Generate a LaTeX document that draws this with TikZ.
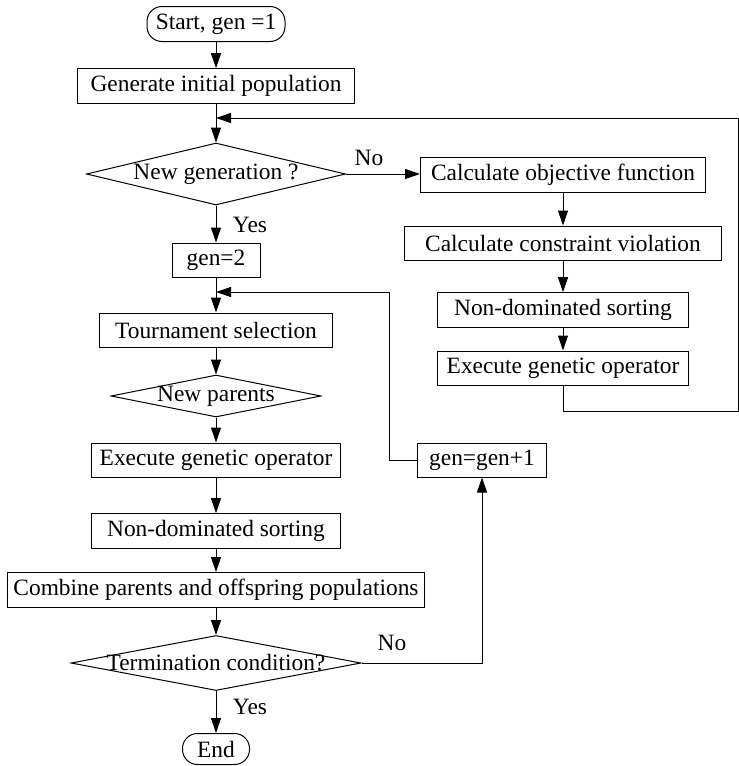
\documentclass[tikz,border=0pt]{standalone}
\usepackage{fontspec}
\setmainfont{Liberation Serif}
\usetikzlibrary{shapes.geometric}
\usetikzlibrary{arrows.meta}
\usetikzlibrary{calc}

\tikzset{
  procbox/.style={draw, rectangle, inner xsep=2pt, minimum height=17pt},
  terminal/.style={draw, rectangle, rounded corners=7.5pt, inner xsep=2pt, inner ysep=1pt, minimum height=17.5pt},
  decide/.style={draw, diamond, inner sep=0pt},
  flow/.style={-{Triangle[length=7.5pt,width=5pt]}},
}
% text that may run over the edges of a diamond
\newcommand{\dtext}[1]{\makebox[0pt]{#1}}

\begin{document}
\begin{tikzpicture}[x=0.5pt, y=-0.5pt, line width=0.5pt, font=\fontsize{11.7}{14}\selectfont]

  \useasboundingbox (0,0) rectangle (739,766);

  % main column
  \node[terminal, minimum width=69pt] (start) at (216,24) {Start, gen =1};
  \node[procbox, minimum width=138.5pt] (init) at (216,86) {Generate initial population};
  \coordinate (J1) at (216,118);
  \node[decide, minimum width=129.5pt, minimum height=31pt] (newgen) at (216,174) {\dtext{New generation ?}};
  \node[procbox, minimum width=44pt] (gentwo) at (216,260) {gen=2};
  \coordinate (J2) at (216,292);
  \node[procbox, minimum width=116.5pt] (tour) at (216,330) {Tournament selection};
  \node[decide, minimum width=105pt, minimum height=21pt] (parents) at (216,396) {\dtext{New parents}};
  \node[procbox, minimum width=124.5pt] (execL) at (216,460) {Execute genetic operator};
  \node[procbox, minimum width=124.5pt] (sortL) at (216,531) {Non-dominated sorting};
  \node[procbox, minimum width=208.5pt] (combine) at (216,590) {Combine parents and offspring populations};
  \node[decide, minimum width=145pt, minimum height=27.5pt] (stopq) at (216,663) {\dtext{Termination condition?}};
  \node[terminal, minimum width=33.5pt, minimum height=15.5pt] (finish) at (216,749) {End};

  % right column
  \node[procbox, minimum width=142.5pt] (objf) at (563,175) {Calculate objective function};
  \node[procbox, minimum width=158.5pt] (cons) at (563,243) {Calculate constraint violation};
  \node[procbox, minimum width=125.5pt] (sortR) at (563,310) {Non-dominated sorting};
  \node[procbox, minimum width=125.5pt] (execR) at (563,368) {Execute genetic operator};
  \node[procbox, minimum width=64.5pt] (incr) at (482,460) {gen=gen+1};

  % corners of the feedback lines
  \coordinate (R1) at (738,411);
  \coordinate (L1) at (389,292);

  % straight arrows
  \foreach \a/\b in {start/init, init/newgen, newgen/gentwo, gentwo/tour, tour/parents,
                     parents/execL, execL/sortL, sortL/combine, combine/stopq, stopq/finish,
                     objf/cons, cons/sortR, sortR/execR}
    \draw[flow] (\a) -- (\b);

  % branches
  \draw[flow] (newgen.east) -- (newgen.east -| objf.west);
  \draw[flow] (execR.south) |- (R1) |- (J1);
  \draw[flow] (incr.west) -| (L1) -- (J2);
  \draw[flow] (stopq.east) -| (incr.south);

  % yes / no
  \node (noA)  at (369,158) {No};
  \node (yesA) at (250,225) {Yes};
  \node (noB)  at (392,643) {No};
  \node (yesB) at (250,707) {Yes};

\end{tikzpicture}
\end{document}
